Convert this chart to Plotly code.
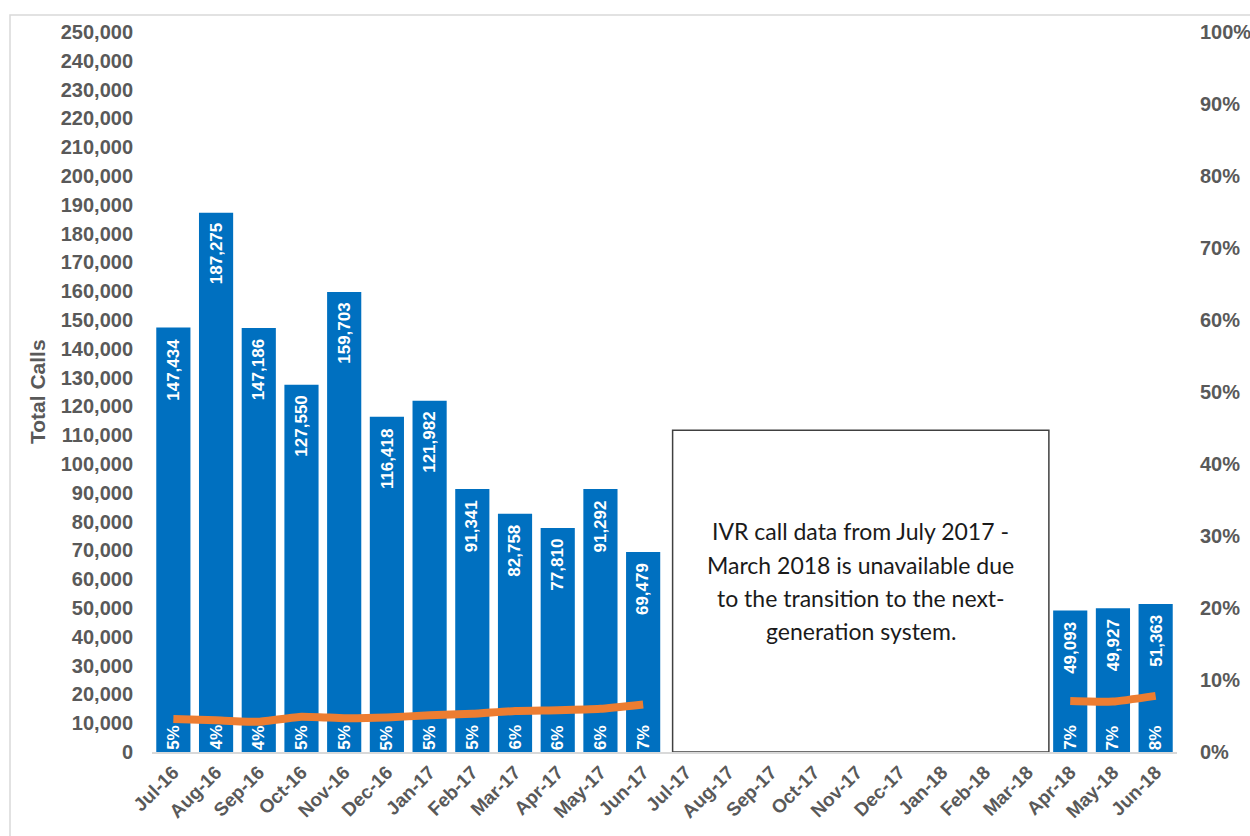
import plotly.graph_objects as go

months = ["Jul-16", "Aug-16", "Sep-16", "Oct-16", "Nov-16", "Dec-16",
          "Jan-17", "Feb-17", "Mar-17", "Apr-17", "May-17", "Jun-17",
          "Jul-17", "Aug-17", "Sep-17", "Oct-17", "Nov-17", "Dec-17",
          "Jan-18", "Feb-18", "Mar-18", "Apr-18", "May-18", "Jun-18"]

total_calls = [147434, 187275, 147186, 127550, 159703, 116418,
               121982, 91341, 82758, 77810, 91292, 69479,
               None, None, None, None, None, None,
               None, None, None, 49093, 49927, 51363]

pct_share = [0.046, 0.044, 0.042, 0.049, 0.047, 0.048,
             0.051, 0.053, 0.057, 0.058, 0.060, 0.066,
             None, None, None, None, None, None,
             None, None, None, 0.071, 0.070, 0.078]

note_lines = ["IVR call data from July 2017 -",
              "March 2018 is unavailable due",
              "to the transition to the next-",
              "generation system."]

BLUE = "#0070C0"
ORANGE = "#ED7D31"
GRAY = "#595959"
FONT = "Liberation Sans"

L, R, T, B = 152, 73, 32, 84
W, H = 1250, 836
PW = W - L - R
PH = H - T - B

fig = go.Figure()
fig.add_trace(go.Bar(x=months, y=total_calls, marker=dict(color=BLUE, line=dict(width=0)),
                     yaxis="y", hoverinfo="x+y"))
fig.add_trace(go.Scatter(x=months, y=pct_share, mode="lines", yaxis="y2",
                         line=dict(color=ORANGE, width=8, shape="spline", smoothing=0.4),
                         connectgaps=False))

annotations = []
for m, v, p in zip(months, total_calls, pct_share):
    if v is None:
        continue
    annotations.append(dict(x=m, y=v, xref="x", yref="y", text=f"{v:,}", showarrow=False,
                            textangle=-90, yanchor="top", xanchor="center", yshift=-9,
                            font=dict(family=FONT, size=17, color="white", weight="bold")))
    annotations.append(dict(x=m, y=0, xref="x", yref="y", text=f"{p:.0%}", showarrow=False,
                            textangle=-90, yanchor="bottom", xanchor="center", yshift=0,
                            font=dict(family=FONT, size=17, color="white", weight="bold")))

# note box text
box_x0, box_x1 = 11.69, 20.5
box_top = 111700
line_px = [531, 565, 598, 631]
for txt, ypx in zip(note_lines, line_px):
    annotations.append(dict(x=(box_x0 + box_x1) / 2, xref="x",
                            y=1 - (ypx - T) / PH, yref="paper",
                            text=txt, showarrow=False, xanchor="center", yanchor="middle",
                            font=dict(family="Lato", size=23, color="#1a1a1a")))

annotations.append(dict(x=(37 - L) / PW, xref="paper", y=1 - (392 - T) / PH, yref="paper",
                        text="Total Calls", showarrow=False, textangle=-90,
                        xanchor="center", yanchor="middle",
                        font=dict(family=FONT, size=21, color=GRAY, weight="bold")))

shapes = [
    dict(type="rect", xref="x", yref="y", x0=box_x0, x1=box_x1, y0=0, y1=box_top,
         line=dict(color="#404040", width=1.5), fillcolor="white", layer="above"),
    dict(type="rect", xref="paper", yref="paper",
         x0=(10 - L) / PW, x1=(W + 10 - L) / PW,
         y0=1 - (H + 10 - T) / PH, y1=1 - (15 - T) / PH,
         line=dict(color="#d9d9d9", width=1.5), fillcolor="rgba(0,0,0,0)", layer="below"),
]

fig.update_layout(
    width=W, height=H,
    margin=dict(l=L, r=R, t=T, b=B, pad=0, autoexpand=False),
    paper_bgcolor="white", plot_bgcolor="white",
    showlegend=False, bargap=0.2,
    font=dict(family=FONT, color=GRAY),
    xaxis=dict(type="category", categoryorder="array", categoryarray=months, automargin=False,
               tickangle=-45, showgrid=False, showline=True, linecolor="#d9d9d9", linewidth=1.5,
               ticks="", tickfont=dict(family=FONT, size=19, color=GRAY, weight="bold"),
               range=[-0.5, 23.5]),
    yaxis=dict(range=[0, 250000], dtick=10000, tickformat=",", showgrid=False, zeroline=False,
               showline=False, ticks="", ticklabelstandoff=18, automargin=False,
               tickfont=dict(family=FONT, size=20, color=GRAY, weight="bold")),
    yaxis2=dict(range=[0, 1], dtick=0.1, tickformat=".0%", overlaying="y", side="right",
                showgrid=False, zeroline=False, showline=False, ticks="", ticklabelstandoff=22,
                automargin=False,
                tickfont=dict(family=FONT, size=20, color=GRAY, weight="bold")),
    annotations=annotations,
    shapes=shapes,
)

fig.write_html("out.html")
